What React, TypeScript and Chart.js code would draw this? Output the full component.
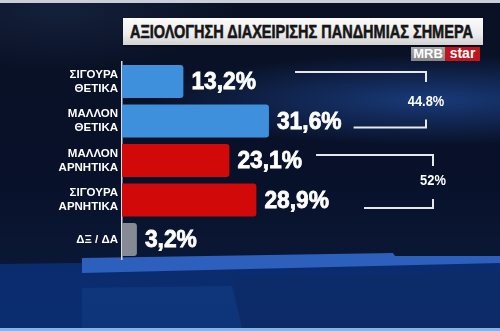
import React, { useEffect, useLayoutEffect, useRef } from "react";
import { Chart, registerables } from "chart.js";

Chart.register(...registerables);

// ---- data ----
const categories: (string | string[])[] = [
  ["ΣΙΓΟΥΡΑ", "ΘΕΤΙΚΑ"],
  ["ΜΑΛΛΟΝ", "ΘΕΤΙΚΑ"],
  ["ΜΑΛΛΟΝ", "ΑΡΝΗΤΙΚΑ"],
  ["ΣΙΓΟΥΡΑ", "ΑΡΝΗΤΙΚΑ"],
  "ΔΞ / ΔΑ",
];
const values = [13.2, 31.6, 23.1, 28.9, 3.2];
const valueLabels = ["13,2%", "31,6%", "23,1%", "28,9%", "3,2%"];
const groupRanges = [
  [0, 1],
  [2, 3],
];
const groupLabels = ["44.8%", "52%"];
const titleText = "ΑΞΙΟΛΟΓΗΣΗ ΔΙΑΧΕΙΡΙΣΗΣ ΠΑΝΔΗΜΙΑΣ ΣΗΜΕΡΑ";

// ---- styles ----
const barColors = ["#3e8fdc", "#3e8fdc", "#d10909", "#d10909", "#858a94"];
const bracketStyle = [
  { right: 426, topOff: -9.5, botOff: 6.5, gapTop: 39, gapBot: 12, tick: 10 },
  { right: 433, topOff: -5.5, botOff: 8, gapTop: 14, gapBot: 35, tick: 11 },
];
const VALUE_FONT = "bold 24px 'Liberation Sans', Arial, sans-serif";
const VALUE_SCALE = 0.95;

const annotationsPlugin = {
  id: "annotations",
  afterDatasetsDraw(chart: any) {
    const ctx = chart.ctx;
    const meta = chart.getDatasetMeta(0);
    const ends: number[] = [];
    ctx.save();
    ctx.font = VALUE_FONT;
    ctx.fillStyle = "#ffffff";
    ctx.strokeStyle = "#ffffff";
    ctx.lineWidth = 0.8;
    ctx.textBaseline = "middle";
    ctx.textAlign = "left";
    meta.data.forEach((el: any, i: number) => {
      const x0 = el.x + 8;
      const w = ctx.measureText(valueLabels[i]).width * VALUE_SCALE;
      ctx.save();
      ctx.translate(x0, el.y + 1);
      ctx.scale(VALUE_SCALE, 1);
      ctx.fillText(valueLabels[i], 0, 0);
      ctx.strokeText(valueLabels[i], 0, 0);
      ctx.restore();
      ends.push(x0 + w);
    });
    ctx.strokeStyle = "#e6e8ec";
    ctx.lineWidth = 2;
    ctx.lineCap = "butt";
    groupRanges.forEach(([a, b], g) => {
      const s = bracketStyle[g];
      const ya = meta.data[a].y + s.topOff;
      const yb = meta.data[b].y + s.botOff;
      ctx.beginPath();
      ctx.moveTo(ends[a] + s.gapTop, ya);
      ctx.lineTo(s.right, ya);
      ctx.lineTo(s.right, ya + s.tick);
      ctx.moveTo(ends[b] + s.gapBot, yb);
      ctx.lineTo(s.right, yb);
      ctx.lineTo(s.right, yb - s.tick + 2);
      ctx.stroke();
      ctx.font = "bold 14px 'Liberation Sans', Arial, sans-serif";
      ctx.textAlign = "center";
      ctx.save();
      const ym = (meta.data[a].y + meta.data[b].y) / 2 + 1;
      ctx.translate(s.right, ym);
      ctx.scale(0.92, 1);
      ctx.fillText(groupLabels[g], 0, 0);
      ctx.restore();
    });
    ctx.restore();
  },
};

export default function App() {
  const canvasRef = useRef<HTMLCanvasElement>(null);
  const titleRef = useRef<HTMLSpanElement>(null);

  useLayoutEffect(() => {
    const sp = titleRef.current;
    if (sp) {
      const w = sp.offsetWidth;
      if (w > 0) sp.style.transform = `scaleX(${343 / w})`;
    }
  }, []);

  useEffect(() => {
    if (!canvasRef.current) return;
    const chart = new Chart(canvasRef.current, {
      type: "bar",
      data: {
        labels: categories as any,
        datasets: [
          {
            data: values,
            backgroundColor: barColors,
            borderRadius: 3,
            borderSkipped: "start",
            barPercentage: 0.84,
            categoryPercentage: 1,
          },
        ],
      },
      options: {
        indexAxis: "y",
        animation: false,
        responsive: false,
        events: [],
        layout: { padding: { left: 0, right: 29.25, top: 61.75, bottom: 71.75 } },
        plugins: { legend: { display: false }, tooltip: { enabled: false }, title: { display: false } },
        scales: {
          x: { display: false, min: 0, max: 75 },
          y: {
            afterFit: (s: any) => {
              s.width = 122;
            },
            grid: { display: false, drawTicks: false },
            border: { display: true, color: "#d6dae2", width: 1.5 },
            ticks: {
              color: "#ffffff",
              padding: 4,
              font: { family: "'Liberation Sans', Arial, sans-serif", size: 11.5, weight: "bold", lineHeight: 1.2 },
            },
          },
        },
      },
      plugins: [annotationsPlugin],
    });
    return () => chart.destroy();
  }, []);

  const full: React.CSSProperties = { position: "absolute", left: 0, top: 0, width: 500, height: 331 };

  return (
    <div
      style={{
        position: "fixed",
        left: 0,
        top: 0,
        width: 500,
        height: 331,
        overflow: "hidden",
        background:
          "radial-gradient(ellipse 280px 45px at 430px 100px, rgba(35,85,175,0.6), rgba(20,50,120,0) 100%), radial-gradient(ellipse 180px 60px at 60px 10px, rgba(40,60,100,0.35), rgba(0,0,0,0) 100%), linear-gradient(180deg, #0a1124 0%, #08112a 55%, #0a1734 78%, #0a1a3c 100%)",
      }}
    >
      {/* top light strip */}
      <div style={{ position: "absolute", left: 0, top: 0, width: 500, height: 3, background: "#c9ced8" }} />
      {/* lower blue area */}
      <div style={{ ...full, background: "linear-gradient(180deg,#0b2a66,#0a2d70)", clipPath: "polygon(0 264px, 500px 258px, 500px 331px, 0 331px)" }} />
      {/* bright band */}
      <div style={{ ...full, background: "#2d5fbc", clipPath: "polygon(82px 258px, 393px 253px, 395px 256px, 500px 256px, 500px 263px, 82px 273px)" }} />
      {/* lighter panel */}
      <div style={{ ...full, background: "linear-gradient(180deg,#14408e,#0e3478)", clipPath: "polygon(82px 288px, 232px 286px, 242px 328px, 82px 328px)" }} />
      <div style={{ ...full, background: "linear-gradient(180deg,#0f3377,#0b2a66)", clipPath: "polygon(232px 278px, 500px 272px, 500px 328px, 242px 328px)" }} />
      {/* bottom light strip */}
      <div style={{ position: "absolute", left: 0, top: 328, width: 500, height: 3, background: "#86b2e4" }} />

      {/* title box */}
      <div
        style={{
          position: "absolute",
          left: 123,
          top: 18,
          width: 360,
          height: 27,
          background: "linear-gradient(180deg,#fbfbfb 0%,#ececec 60%,#d2d2d2 100%)",
          boxShadow: "0 1px 2px rgba(0,0,0,0.5)",
        }}
      >
        <span
          ref={titleRef}
          style={{
            position: "absolute",
            left: 7,
            top: 2,
            display: "inline-block",
            whiteSpace: "nowrap",
            transformOrigin: "0 0",
            fontFamily: "'Liberation Sans', Arial, sans-serif",
            fontWeight: "bold",
            fontSize: 19,
            lineHeight: "23px",
            color: "#161616",
            WebkitTextStroke: "0.6px #161616",
          }}
        >
          {titleText}
        </span>
      </div>
      {/* logo */}
      <div
        style={{
          position: "absolute",
          left: 411,
          top: 47,
          width: 34,
          height: 14,
          background: "linear-gradient(180deg,#a8a8a8,#858585)",
          color: "#fff",
          fontFamily: "'Liberation Sans', Arial, sans-serif",
          fontWeight: "bold",
          fontSize: 13,
          lineHeight: "14px",
          textAlign: "center",
        }}
      >
        MRB
      </div>
      <div
        style={{
          position: "absolute",
          left: 445,
          top: 47,
          width: 35,
          height: 14,
          background: "#c0141e",
          color: "#fff",
          fontFamily: "'Liberation Sans', Arial, sans-serif",
          fontWeight: "bold",
          fontSize: 14,
          lineHeight: "13px",
          textAlign: "center",
        }}
      >
        star
      </div>

      <canvas ref={canvasRef} width={500} height={331} style={{ ...full, display: "block" }} />
    </div>
  );
}
